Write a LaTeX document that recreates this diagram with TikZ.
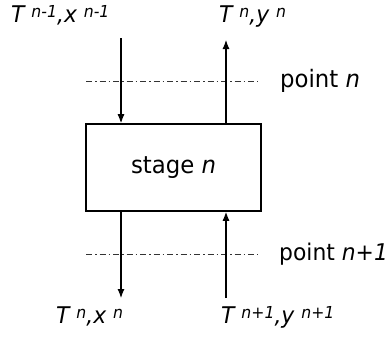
\documentclass[tikz,border=0pt]{standalone}
\usepackage{fontspec}
\setmainfont{DejaVu Sans}[FakeStretch=0.95]
\usetikzlibrary{arrows.meta}
\newcommand\mysup[1]{\raisebox{5pt}{\fontsize{16.5}{16.5}\selectfont #1}}
\tikzset{
  lab/.style={inner sep=0pt, font=\fontsize{23}{27}\selectfont\itshape},
  txt/.style={inner sep=0pt, font=\fontsize{24}{28}\selectfont},
  stagebox/.style={draw, line width=1.6pt, minimum width=175pt, minimum height=87pt, inner sep=0pt, font=\fontsize{24}{28}\selectfont},
  flow/.style={line width=1.1pt, -{Latex[length=9pt,width=7pt]}},
  cut/.style={line width=0.9pt, black!80, dash pattern=on 6pt off 3pt on 1.5pt off 3pt}
}
\begin{document}
\begin{tikzpicture}[x=1pt,y=-1pt]
\useasboundingbox (0,0) rectangle (392,338);
\node[stagebox] (st) at (173.5,167.5) {stage \textit{n}};
% labels
\node[lab, anchor=base west] (tl) at (11,22) {T \mysup{n-1},x \mysup{n-1}};
\node[lab, anchor=base west] (tr) at (219,22) {T \mysup{n},y \mysup{n}};
\node[lab, anchor=base west] (bl) at (56,323) {T \mysup{n},x \mysup{n}};
\node[lab, anchor=base west] (br) at (221,323) {T \mysup{n+1},y \mysup{n+1}};
% cut lines
\coordinate (c1a) at (86,81);
\coordinate (c1b) at (258,81);
\coordinate (c2a) at (86,254);
\coordinate (c2b) at (258,254);
\draw[cut] (c1a) -- (c1b);
\draw[cut] (c2a) -- (c2b);
\node[txt, anchor=base west] (p1) at (280,87) {point \textit{n}};
\node[txt, anchor=base west, font=\fontsize{23}{27}\selectfont] (p2) at (279,260) {point \textit{n+1}};
% flows
\coordinate (s1) at (121,38);
\coordinate (s2) at (226,40);
\coordinate (s3) at (121,298);
\coordinate (s4) at (226,298);
\draw[flow] (s1) -- (s1 |- st.north);
\draw[flow] (s2 |- st.north) -- (s2);
\draw[flow] (s3 |- st.south) -- (s3);
\draw[flow] (s4) -- (s4 |- st.south);
\end{tikzpicture}
\end{document}
